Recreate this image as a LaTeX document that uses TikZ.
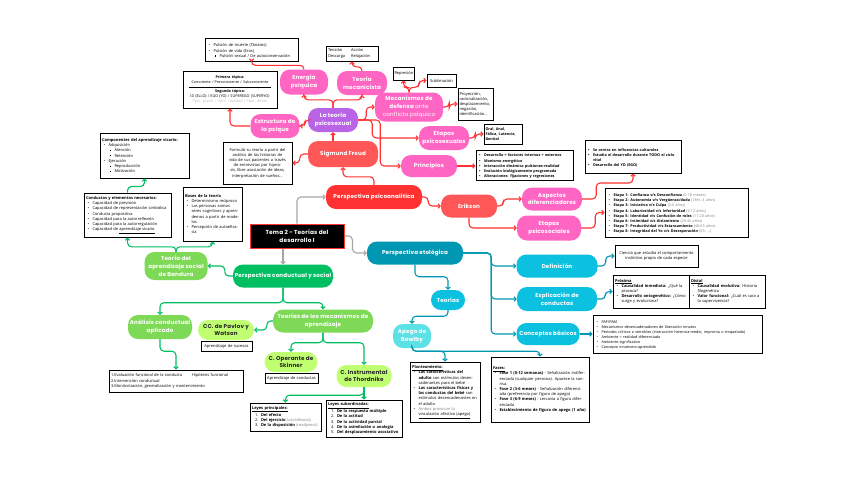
\documentclass[tikz,border=0pt]{standalone}
\usepackage{fontspec}
\setmainfont{Open Sans}
\newfontfamily\popfont[LetterSpace=3]{Poppins}
\usepackage{xcolor}
\usetikzlibrary{positioning, arrows.meta}

\definecolor{rojo}{HTML}{FF3131}
\definecolor{salmon}{HTML}{FF5757}
\definecolor{rosa}{HTML}{FF66C4}
\definecolor{lila}{HTML}{B964E6}
\definecolor{petroleo}{HTML}{0097B2}
\definecolor{cian}{HTML}{0CC0DF}
\definecolor{celeste}{HTML}{5CE1E6}
\definecolor{verde}{HTML}{00BF63}
\definecolor{verdeclaro}{HTML}{7ED957}
\definecolor{lima}{HTML}{C1FF72}
\definecolor{gris}{HTML}{A6A6A6}

\newcommand{\bx}{\fontsize{4}{5.2}\selectfont}
\newcommand{\bxs}{\fontsize{3.75}{5.1}\selectfont}
\newcommand{\pl}{\popfont\bfseries\fontsize{5.6}{7.8}\selectfont}
\newcommand{\bul}[1]{\par\noindent\hangindent=6.5pt\hangafter=1\hspace*{1.5pt}\makebox[5pt][l]{\textbullet}#1\par}
\newcommand{\subbul}[1]{\par\noindent\hangindent=12.5pt\hangafter=1\hspace*{7.5pt}\makebox[5pt][l]{\rule[0.6pt]{1.2pt}{1.2pt}}#1\par}
\newcommand{\nitem}[2]{\par\noindent\hangindent=9pt\hangafter=1\hspace*{3pt}\makebox[6pt][l]{#1.}#2\par}

\begin{document}
\begin{tikzpicture}[x=1pt, y=-1pt,
    pill/.style={rectangle, rounded corners=10pt, fill=#1, text=white, font=\pl, align=center, inner sep=1pt},
    limapill/.style={pill=lima, text=black!85, font=\popfont\bfseries\fontsize{5.6}{7.2}\selectfont},
    titulo/.style={rectangle, fill=black, draw=rojo, line width=1pt, text=white, align=center,
        font=\popfont\bfseries\fontsize{5.8}{8.4}\selectfont},
    caja/.style={rectangle, draw=black, line width=1pt, fill=white, font=\bx, align=left, inner sep=2pt},
    rojoarr/.style={draw=rojo, line width=1.1pt, rounded corners=4pt, -{Straight Barb[length=2pt,width=4.5pt]}},
    grisarr/.style={rojoarr, draw=gris},
    verdearr/.style={rojoarr, draw=verde},
    petroarr/.style={rojoarr, draw=petroleo}
]
\fill[white] (0,0) rectangle (848,477);
\useasboundingbox (0,0) rectangle (848,477);

% Nodo centrale
\node[titulo, minimum width=94, minimum height=24] (tema) at (297,236) {Tema 2 - Teorías del\\desarrollo I};

% Perspectiva psicoanalitica
\node[pill=rojo, minimum width=96, minimum height=24] (psico) at (374,197) {Perspectiva psicoanalítica};
\node[pill=salmon, minimum width=70, minimum height=26] (freud) at (343,154) {Sigmund Freud};
\node[pill=salmon, minimum width=56, minimum height=23] (erikson) at (469,206) {Erikson};
\node[pill=lila, minimum width=50, minimum height=24] (psicosex) at (333,120) {La teoría\\psicosexual};
\node[pill=rosa, minimum width=49, minimum height=24] (estructura) at (275,126) {Estructura de\\la psique};
\node[pill=rosa, minimum width=48, minimum height=25] (energia) at (304,82) {Energía\\psíquica};
\node[pill=rosa, minimum width=50, minimum height=24] (mecanicista) at (362,83) {Teoría\\mecanicista};
\node[pill=rosa, minimum width=68, minimum height=29] (mecanismos) at (409,107) {Mecanismos de\\defensa {\mdseries ante}\\{\mdseries conflicto psíquico}};
\node[pill=rosa, minimum width=50, minimum height=24] (etapasps) at (444,138) {Etapas\\psicosexuales};
\node[pill=rosa, minimum width=56, minimum height=22] (principios) at (429,166) {Principios};
\node[pill=rosa, minimum width=60, minimum height=23] (aspectos) at (552,199) {Aspectos\\diferenciadores};
\node[pill=rosa, minimum width=64, minimum height=25] (etapaspsoc) at (549,228) {Etapas\\psicosociales};

\node[caja, text width=89, minimum height=23] (pulsion) at (251.5,49.5) {\bul{Pulsión de muerte (Tánatos)}\bul{Pulsión de vida (Eros)}\subbul{Pulsión sexual / De autoconservación}};
\node[caja, text width=48, minimum height=15] (tension) at (352,53.5) {\begin{tabular}{@{}l@{\hspace{6pt}}l@{}}Tensión & Acción\\Descarga & Relajación\end{tabular}};
\node[caja, align=center, text width=91, minimum height=37, inner sep=1.5pt, font=\bxs] (topicas) at (230,89.5) {\textbf{Primera tópica:}\\Consciente / Preconsciente / Subconsciente\\[-2pt]\rule{82pt}{0.4pt}\\\textbf{Segunda tópica:}\\ID (ELLO) / EGO (YO) / SUPEREGO (SUPERYO)\\{\color{lightgray}Ppio. placer / Ppio. realidad / Ppio. deber}};
\node[caja, align=center, text width=18, minimum height=13, inner sep=1.5pt] (represion) at (403.5,73.5) {Represión};
\node[caja, align=center, text width=26, minimum height=13, inner sep=1.5pt] (sublimacion) at (441.5,80.5) {Sublimación};
\node[caja, text width=32, minimum height=32, inner sep=1.5pt] (proyeccion) at (475.5,104) {Proyección,\\racionalización,\\desplazamiento,\\negación,\\identificación...};
\node[caja, text width=35, minimum height=20, inner sep=1.5pt, font=\bxs\bfseries] (fasesps) at (503,134) {Oral, Anal,\\Fálica, Latencia,\\Genital};
\node[caja, text width=94, minimum height=30, inner sep=1.5pt, font=\bxs\bfseries] (principiosbox) at (524.5,165) {\bul{Desarrollo = factores internos + externos}\bul{Monismo energético}\bul{Interacción dinámica pulsiones-realidad}\bul{Evolución biológicamente programada}\bul{Alteraciones: fijaciones y regresiones}};
\node[caja, align=center, text width=65, minimum height=42] (formulo) at (257.5,163) {Formuló su teoría a partir del análisis de las historias de vida de sus pacientes a través de entrevistas por hipnosis, libre asociación de ideas, interpretación de sueños...};
\node[caja, text width=93, minimum height=33, inner sep=1.5pt, font=\bxs\bfseries] (culturales) at (633,156.5) {\bul{Se centra en influencias culturales}\bul{Estudia el desarrollo durante TODO el ciclo vital}\bul{Desarrollo del YO (EGO)}};
\node[caja, text width=139, minimum height=49, font=\bxs] (etapas8) at (676.5,212.5) {%
\bul{\textbf{Etapa 1: Confianza v/s Desconfianza} {\color{gray}(0-18 meses)}}%
\bul{\textbf{Etapa 2: Autonomía v/s Vergüenza/duda} {\color{gray}(18m.-3 años)}}%
\bul{\textbf{Etapa 3: Iniciativa v/s Culpa} {\color{gray}(3-6 años)}}%
\bul{\textbf{Etapa 4: Laboriosidad v/s Inferioridad} {\color{gray}(6-12 años)}}%
\bul{\textbf{Etapa 5: Identidad v/s Confusión de roles} {\color{gray}(11-20 años)}}%
\bul{\textbf{Etapa 6: Intimidad v/s Aislamiento} {\color{gray}(20-40 años)}}%
\bul{\textbf{Etapa 7: Productividad v/s Estancamiento} {\color{gray}(40-65 años)}}%
\bul{\textbf{Etapa 8: Integridad del Yo v/s Desesperación} {\color{gray}(65- ...)}}};

% Perspectiva etologica
\node[pill=petroleo, minimum width=96, minimum height=23] (etologica) at (415,253) {Perspectiva etológica};
\node[pill=cian, minimum width=81, minimum height=23] (definicion) at (557,266) {Definición};
\node[pill=cian, minimum width=80, minimum height=24] (explicacion) at (557,299) {Explicación de\\conductas};
\node[pill=cian, minimum width=63, minimum height=22] (conceptos) at (548,334) {Conceptos básicos};
\node[pill=cian, minimum width=34, minimum height=20] (teorias) at (448,300) {Teorías};
\node[pill=celeste, minimum width=38, minimum height=24] (apego) at (412,336) {Apego de\\Bowlby};

\node[caja, align=center, text width=79, minimum height=22] (defbox) at (656.5,256) {Ciencia que estudia el comportamiento\\instintivo propio de cada especie};
\node[caja, text width=72, minimum height=33] (proxima) at (651,291.5) {\underline{\textbf{Próxima}}\bul{\textbf{Causalidad inmediata:} ¿Qué la provoca?}\bul{\textbf{Desarrollo ontogenético:} ¿Cómo surge y evoluciona?}};
\node[caja, text width=72, minimum height=33] (distal) at (727,291.5) {\underline{\textbf{Distal}}\bul{\textbf{Causalidad evolutiva:} Historia filogenética}\bul{\textbf{Valor funcional:} ¿Cuál es cara a la supervivencia?}};
\node[caja, text width=165, minimum height=38, font=\bxs] (conbox) at (677.5,334) {\bul{PAF/PAM}\bul{Mecanismos desencadenadores de liberación innatos}\bul{Periodos críticos o sensibles (interacción herencia-medio, impronta o troquelado)}\bul{Ambiente = realidad diferenciada}\bul{Ambiente significativo}\bul{Concepto innatismo-aprendido}};
\node[caja, text width=66, minimum height=60] (plant) at (445,392) {\underline{\textbf{Planteamiento:}}\bul{\textbf{Las características del adulto} son estímulos desencadenantes para el bebé}\bul{\textbf{Las características físicas y las conductas del bebé} son estímulos desencadenantes en el adulto}\bul{{\color{gray}Ambos provocan la} \underline{vinculación afectiva (apego)}}};
\node[caja, text width=94, minimum height=65] (fases) at (540,389.5) {\underline{\textbf{Fases:}}\bul{\textbf{Fase 1 (0-12 semanas)} - Señalización indiferenciada (cualquier persona). Aparece la sonrisa.}\bul{\textbf{Fase 2 (3-6 meses)} - Señalización diferenciada (preferencia por figura de apego)}\bul{\textbf{Fase 3 (6-9 meses)} - cercanía a figura diferenciada}\bul{\textbf{Establecimiento de figura de apego (1 año)}}};

% Perspectiva conductual y social
\node[pill=verde, minimum width=100, minimum height=23] (conductual) at (283,276) {Perspectiva conductual y social};
\node[pill=verdeclaro, minimum width=63, minimum height=28] (bandura) at (176,266) {Teoría del\\aprendizaje social\\de Bandura};
\node[pill=verdeclaro, minimum width=64, minimum height=24] (analisis) at (160,327) {Análisis conductual\\aplicado};
\node[pill=verdeclaro, minimum width=100, minimum height=23] (mecaprend) at (323,321) {Teorías de los mecanismos de\\aprendizaje};
\node[limapill, minimum width=56, minimum height=20] (pavlov) at (226,330) {CC. de Pavlov y\\Watson};
\node[limapill, minimum width=53, minimum height=20] (skinner) at (291,362) {C. Operante de\\Skinner};
\node[limapill, minimum width=55, minimum height=22] (thorndike) at (364,376) {C. Instrumental\\de Thordnike};

\node[caja, text width=85, minimum height=45] (componentes) at (144.5,155.5) {\textbf{Componentes del aprendizaje vicario:}\bul{Adquisición}\subbul{Atención}\subbul{Retención}\bul{Ejecución}\subbul{Reproducción}\subbul{Motivación}};
\node[caja, text width=83, minimum height=44] (condbox) at (127.5,215) {\textbf{Conductas y elementos necesarios:}\bul{Capacidad de previsión}\bul{Capacidad de representación simbólica}\bul{Conducta propositiva}\bul{Capacidad para la autorreflexión}\bul{Capacidad para la autorregulación}\bul{Capacidad de \underline{aprendizaje vicario}}};
\node[caja, text width=55, minimum height=54] (bases) at (212.5,214) {\textbf{Bases de la teoría}\bul{Determinismo recíproco}\bul{Las personas somos seres cognitivos y aprendemos a partir de modelos.}\bul{Percepción de autoeficacia}};
\node[caja, text width=130, minimum height=22] (anbox) at (176,381) {1.Evaluación funcional de la conducta\hspace{10pt}Hipótesis funcional\\2.Intervención conductual\\3.Monitorización, generalización y mantenimiento};
\node[caja, align=center, text width=49, minimum height=10, inner sep=1pt] (sucesos) at (226.5,346) {Aprendizaje de sucesos};
\node[caja, align=center, text width=51, minimum height=10, inner sep=1pt] (aprconductas) at (291.5,378) {Aprendizaje de conductas};
\node[caja, text width=67, minimum height=28] (leyesp) at (285.5,417) {\underline{\textbf{Leyes principales:}}\nitem{1}{\textbf{Del efecto}}\nitem{2}{\textbf{Del ejercicio} {\color{gray}(uso/desuso)}}\nitem{3}{\textbf{De la disposición} {\color{gray}(readyness)}}};
\node[caja, text width=72, minimum height=37] (leyess) at (364,418.5) {\underline{\textbf{Leyes subordinadas:}}\nitem{1}{\textbf{De la respuesta múltiple}}\nitem{2}{\textbf{De la actitud}}\nitem{3}{\textbf{De la actividad parcial}}\nitem{4}{\textbf{De la asimilación o analogía}}\nitem{5}{\textbf{Del desplazamiento asociativo}}};

% Conectores
\draw[grisarr] (tema.north) |- (psico.west);
\draw[grisarr] (tema.east) -- ++(8,0) |- (etologica.west);
\draw[grisarr] (conductual.north |- tema.south) -- (conductual.north);

\draw[rojoarr] (psico.east) -- ++(6,0) |- (erikson.west);
\draw[rojoarr] (psico.north) -- ++(0,-8) -| (freud.south);
\draw[rojoarr] (freud.west) -- ++(-8,0) |- (formulo.east);
\draw[rojoarr] (psicosex.south |- freud.north) -- (psicosex.south);
\draw[rojoarr] (psicosex.west) -- ++(-3,0) |- (estructura.east);
\draw[rojoarr] (psicosex.north) -- ++(0,-8) -| (energia.south);
\draw[rojoarr] (psicosex.north) -- ++(0,-8) -| (mecanicista.south);
\draw[rojoarr] (energia.north) -- ++(0,-4) -| (pulsion.south);
\draw[rojoarr] (mecanicista.north) -- ++(0,-4) -| (tension.south);
\draw[rojoarr] (estructura.west) -| (topicas.south);
\draw[rojoarr] (psicosex.east) -- ++(8,0) |- (mecanismos.west);
\draw[rojoarr] (psicosex.east) -- ++(14,0) |- (etapasps.west);
\draw[rojoarr] (psicosex.east) -- ++(22,0) |- (principios.west);
\draw[rojoarr] (mecanismos.north) -- ++(0,-5) -| (represion.south);
\draw[rojoarr] (mecanismos.north) -- ++(0,-5) -- ++(10,0) |- (sublimacion.west);
\draw[rojoarr] (mecanismos.east) -- ++(6,0) |- (proyeccion.west);
\draw[rojoarr] (etapasps.east) -- ++(6,0) |- (fasesps.west);
\draw[rojoarr] (principios.east) -- (principiosbox.west |- principios.east);
\draw[rojoarr] (erikson.east) -- ++(6,0) |- (aspectos.west);
\draw[rojoarr] (erikson.south) |- (etapaspsoc.west);
\draw[rojoarr] (aspectos.east) -- ++(14,0) -- ++(0,-16) -| (culturales.south);
\draw[rojoarr] (etapaspsoc.east) -- ++(14,0) |- (etapas8.west);

\draw[petroarr] (etologica.east) -- ++(28,0) |- (definicion.west);
\draw[petroarr] (etologica.east) -- ++(28,0) |- (explicacion.west);
\draw[petroarr] (etologica.east) -- ++(28,0) |- (conceptos.west);
\draw[petroarr] (definicion.east) -- ++(8,0) |- (defbox.west);
\draw[petroarr] (explicacion.east) -- ++(8,0) |- (proxima.west);
\draw[petroarr] (conceptos.east) -- (conbox.west |- conceptos.east);
\draw[petroarr] (etologica.south) -- ++(0,12) -| (teorias.north);
\draw[petroarr] (teorias.south) -- ++(0,6) -| (apego.north);
\draw[petroarr] (apego.south) -- ++(0,3) -| (plant.north);
\draw[petroarr] (apego.south) -- ++(0,3) -| (fases.north);

\draw[verdearr] (conductual.west) -- ++(-8,0) |- (bandura.east);
\draw[verdearr] (bandura.north) -- ++(0,-5) -| (condbox.south);
\draw[verdearr] (bandura.north) -- ++(0,-5) -| (bases.south);
\draw[verdearr] (condbox.north) -- ++(0,-6) -| (componentes.south);
\draw[verdearr] (conductual.south) -- ++(0,15) -| (analisis.north);
\draw[verdearr] (conductual.south) -- ++(0,15) -| (mecaprend.north);
\draw[verdearr] (analisis.south) -- ++(0,12) -| (anbox.north);
\draw[verdearr] (mecaprend.west) -- ++(-6,0) |- (pavlov.east);
\draw[verdearr] (mecaprend.south) -- ++(0,10) -| (skinner.north);
\draw[verdearr] (mecaprend.south) -- ++(0,10) -| (thorndike.north);
\draw[verdearr] (thorndike.south) -- ++(0,8) -| (leyesp.north);
\draw[verdearr] (thorndike.south) -- (leyess.north);

\end{tikzpicture}
\end{document}
